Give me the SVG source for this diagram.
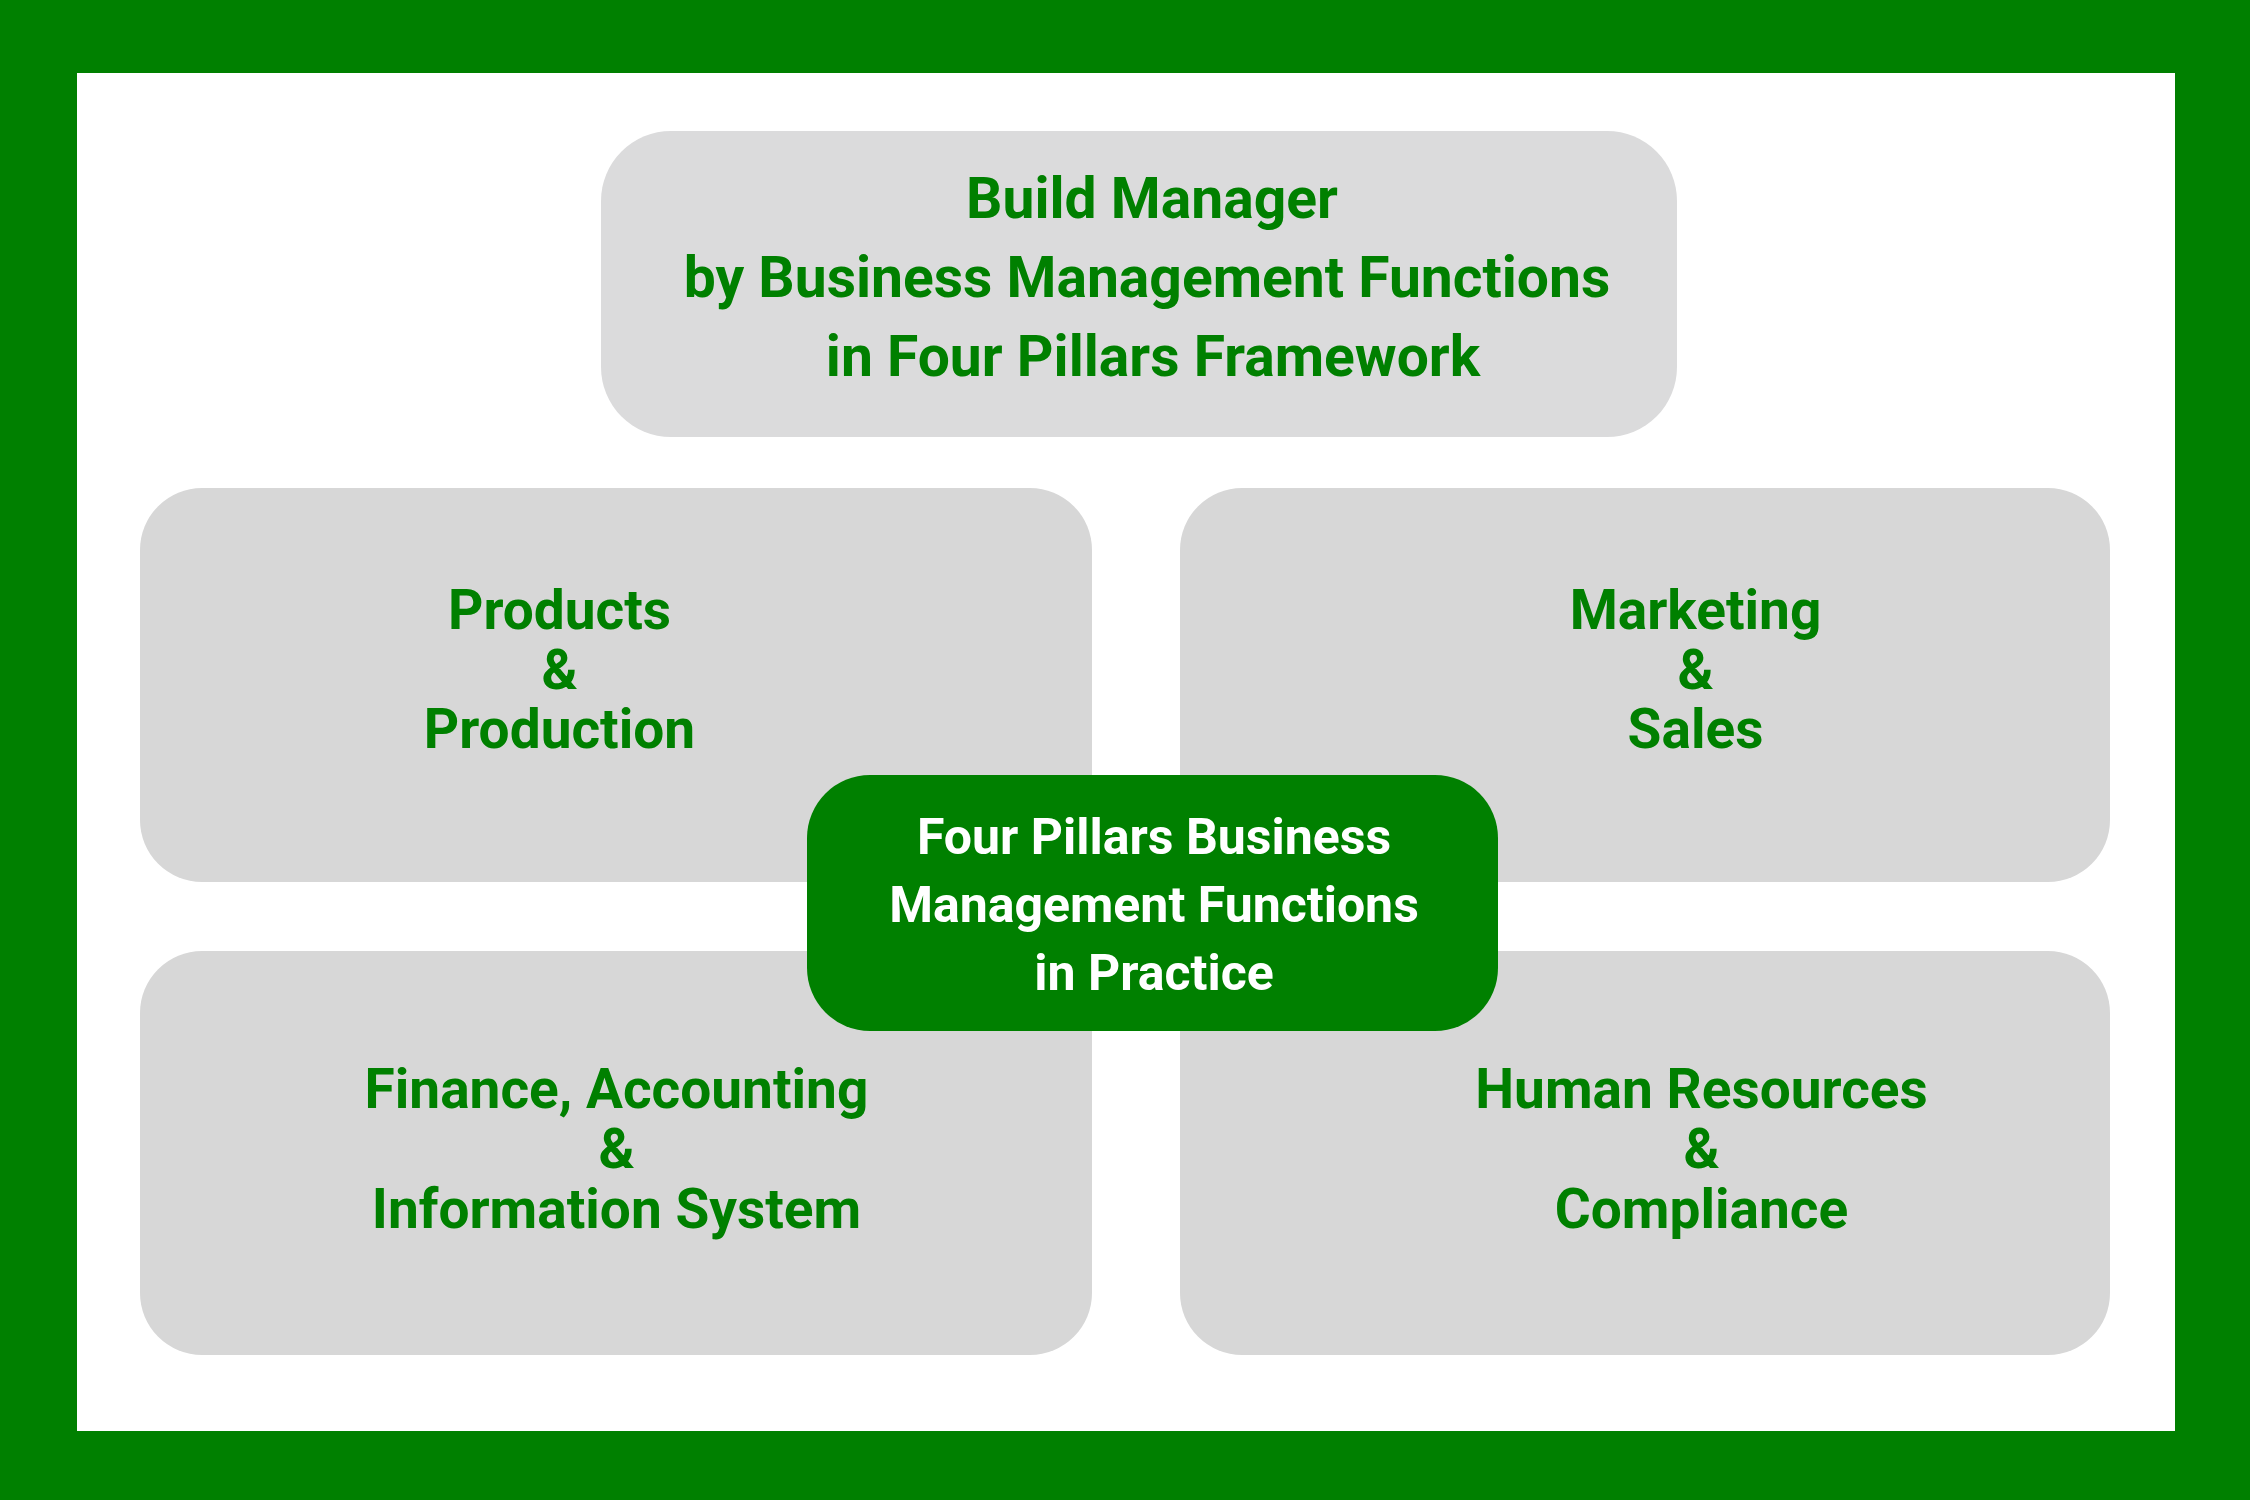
<svg xmlns="http://www.w3.org/2000/svg" width="2250" height="1500" viewBox="0 0 2250 1500">
<style>
.frame{fill:#008000}
.title{fill:#dbdbdc}
.pillar{fill:#d7d7d7}
.core{fill:#008000}
.t{font-family:Roboto,"Liberation Sans",sans-serif;font-weight:700;text-anchor:middle}
.g{fill:#008000}
.w{fill:#ffffff}
</style>
<rect class="frame" x="0" y="0" width="2250" height="1500"/>
<rect x="77" y="73" width="2098" height="1358" fill="#ffffff"/>
<g id="title">
<rect class="title" x="601" y="131" width="1076" height="306" rx="70" ry="70"/>
<text class="t g" font-size="57"><tspan x="1152" y="218">Build Manager</tspan><tspan x="1147" y="297">by Business Management Functions</tspan><tspan x="1153" y="376">in Four Pillars Framework</tspan></text>
</g>
<g id="connectors"></g>
<g id="products">
<rect class="pillar" x="140" y="488" width="952" height="394" rx="62" ry="62"/>
<text class="t g" font-size="55"><tspan x="559.5" y="629">Products</tspan><tspan x="559.5" y="689">&amp;</tspan><tspan x="559.5" y="748">Production</tspan></text>
</g>
<g id="marketing">
<rect class="pillar" x="1180" y="488" width="930" height="394" rx="62" ry="62"/>
<text class="t g" font-size="55"><tspan x="1695.5" y="629">Marketing</tspan><tspan x="1695.5" y="689">&amp;</tspan><tspan x="1695.5" y="748">Sales</tspan></text>
</g>
<g id="finance">
<rect class="pillar" x="140" y="951" width="952" height="404" rx="62" ry="62"/>
<text class="t g" font-size="55"><tspan x="616.5" y="1108">Finance, Accounting</tspan><tspan x="616.5" y="1168">&amp;</tspan><tspan x="616.5" y="1228">Information System</tspan></text>
</g>
<g id="hr">
<rect class="pillar" x="1180" y="951" width="930" height="404" rx="62" ry="62"/>
<text class="t g" font-size="55"><tspan x="1701.5" y="1108">Human Resources</tspan><tspan x="1701.5" y="1168">&amp;</tspan><tspan x="1701.5" y="1228">Compliance</tspan></text>
</g>
<g id="core">
<rect class="core" x="807" y="775" width="691" height="256" rx="63" ry="63"/>
<text class="t w" font-size="50"><tspan x="1154" y="854">Four Pillars Business</tspan><tspan x="1154" y="922">Management Functions</tspan><tspan x="1154" y="990">in Practice</tspan></text>
</g>
</svg>
